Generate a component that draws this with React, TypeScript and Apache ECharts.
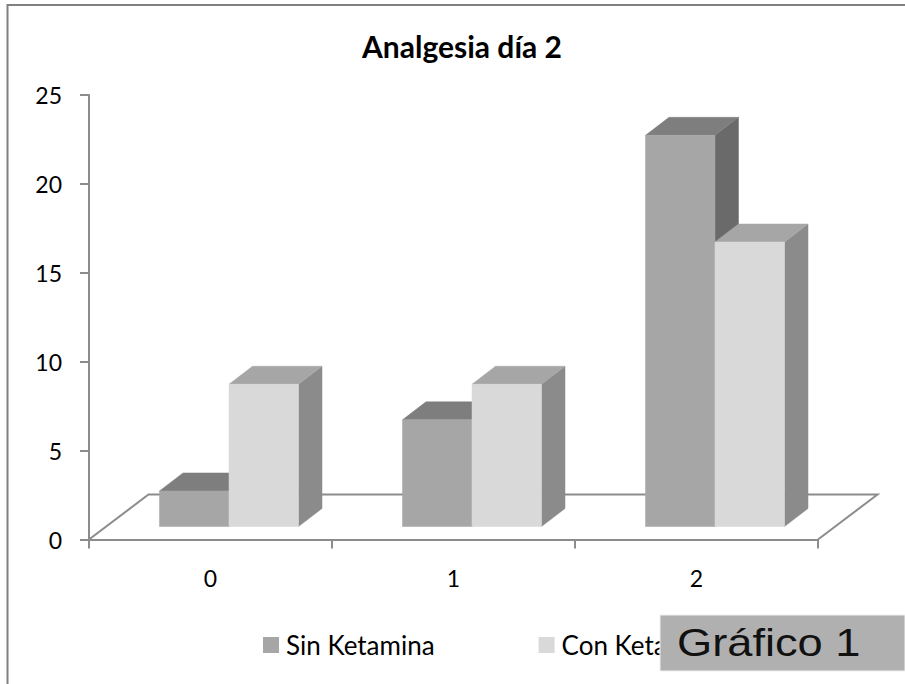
import React, { useEffect, useRef } from "react";
import * as echarts from "echarts";

const categories = ["0", "1", "2"];
const sinKetamina = [2, 6, 22];
const conKetamina = [8, 8, 16];
const titleText = "Analgesia día 2";
const legendNames = ["Sin Ketamina", "Con Ketamina"];
const badgeText = "Gráfico 1";

const AXIS = "#8c8c8c";
const FONT = "Lato, Carlito, 'Open Sans', sans-serif";

const shift = { x: 18.5, y: 13 };
const depth = { x: 23.5, y: 18 };
const floor = { x: 59.5, y: 45 };
const barShare = 0.286;

const barFaces = (side: 0 | 1, faces: { front: string; top: string; side: string }) =>
  (_params: any, api: any) => {
    const cat = api.value(0);
    const val = api.value(1);
    const base = api.coord([cat, 0]);
    const top = api.coord([cat, val]);
    const w = api.size([1, 0])[0] * barShare;
    const xL = base[0] + shift.x + (side === 0 ? -w : 0);
    const xR = xL + w;
    const yB = base[1] - shift.y;
    const yT = yB - (base[1] - top[1]);
    const dx = depth.x;
    const dy = depth.y;
    const poly = (points: number[][], fill: string) => ({
      type: "polygon",
      shape: { points },
      style: { fill, stroke: fill, lineWidth: 0.5 },
    });
    return {
      type: "group",
      children: [
        poly([[xR, yB], [xR + dx, yB - dy], [xR + dx, yT - dy], [xR, yT]], faces.side),
        poly([[xL, yT], [xR, yT], [xR + dx, yT - dy], [xL + dx, yT - dy]], faces.top),
        poly([[xL, yB], [xR, yB], [xR, yT], [xL, yT]], faces.front),
      ],
    };
  };

const floorItem = (params: any) => {
  const c = params.coordSys;
  const y0 = c.y + c.height;
  return {
    type: "polyline",
    shape: {
      points: [
        [c.x, y0],
        [c.x + floor.x, y0 - floor.y],
        [c.x + c.width + floor.x, y0 - floor.y],
        [c.x + c.width, y0],
      ],
    },
    style: { fill: "none", stroke: AXIS, lineWidth: 2 },
  };
};

export default function App() {
  const ref = useRef<HTMLDivElement>(null);
  useEffect(() => {
    document.body.style.margin = "0";
    const chart = echarts.init(ref.current!, null, { renderer: "svg" });
    chart.setOption({
      animation: false,
      backgroundColor: "#ffffff",
      title: {
        text: titleText,
        left: 462,
        top: 31,
        padding: 0,
        textAlign: "center",
        textStyle: { fontFamily: FONT, fontSize: 30, fontWeight: "bold", color: "#000" },
      },
      legend: {
        left: 263,
        top: 632,
        padding: 0,
        itemWidth: 16,
        itemHeight: 16,
        itemGap: 104,
        icon: "rect",
        data: legendNames,
        textStyle: { fontFamily: FONT, fontSize: 26, color: "#000", padding: [0, 0, 0, 2] },
      },
      grid: { left: 89, right: 87, top: 95, bottom: 144.5 },
      xAxis: {
        type: "category",
        data: categories,
        axisLine: { lineStyle: { color: AXIS, width: 2 } },
        axisTick: { show: true, length: 9, lineStyle: { color: AXIS, width: 2 } },
        axisLabel: { fontFamily: FONT, fontSize: 23, color: "#000", margin: 27 },
      },
      yAxis: {
        type: "value",
        min: 0,
        max: 25,
        interval: 5,
        splitLine: { show: false },
        axisLine: { show: true, lineStyle: { color: AXIS, width: 2 } },
        axisTick: { show: true, length: 9, lineStyle: { color: AXIS, width: 2 } },
        axisLabel: { fontFamily: FONT, fontSize: 23, color: "#000", margin: 27 },
      },
      series: [
        {
          type: "custom",
          name: "floor",
          coordinateSystem: "cartesian2d",
          data: [[0, 0]],
          z: 1,
          silent: true,
          clip: false,
          renderItem: floorItem,
        },
        {
          type: "custom",
          name: legendNames[0],
          coordinateSystem: "cartesian2d",
          itemStyle: { color: "#a6a6a6" },
          data: sinKetamina.map((v, i) => [i, v]),
          encode: { x: 0, y: 1 },
          z: 2,
          clip: false,
          renderItem: barFaces(0, { front: "#a6a6a6", top: "#7e7e7e", side: "#6a6a6a" }),
        },
        {
          type: "custom",
          name: legendNames[1],
          coordinateSystem: "cartesian2d",
          itemStyle: { color: "#d9d9d9" },
          data: conKetamina.map((v, i) => [i, v]),
          encode: { x: 0, y: 1 },
          z: 3,
          clip: false,
          renderItem: barFaces(1, { front: "#d9d9d9", top: "#a6a6a6", side: "#8b8b8b" }),
        },
      ],
      graphic: [
        {
          type: "polyline",
          z: 10,
          shape: { points: [[7.5, 684], [7.5, 5], [905, 5]] },
          style: { fill: "none", stroke: "#808080", lineWidth: 2 },
        },
        {
          type: "rect",
          z: 20,
          shape: { x: 660, y: 615, width: 245, height: 56 },
          style: { fill: "#b0b0b0", stroke: "#f0f0f0", lineWidth: 1 },
        },
        {
          type: "text",
          z: 21,
          x: 677,
          y: 643,
          scaleX: 1.16,
          style: {
            text: badgeText,
            fontFamily: "'Liberation Sans', Arial, sans-serif",
            fontSize: 39,
            fill: "#111",
            verticalAlign: "middle",
          },
        },
      ],
    });
    return () => chart.dispose();
  }, []);
  return <div ref={ref} style={{ width: 905, height: 684 }} />;
}
